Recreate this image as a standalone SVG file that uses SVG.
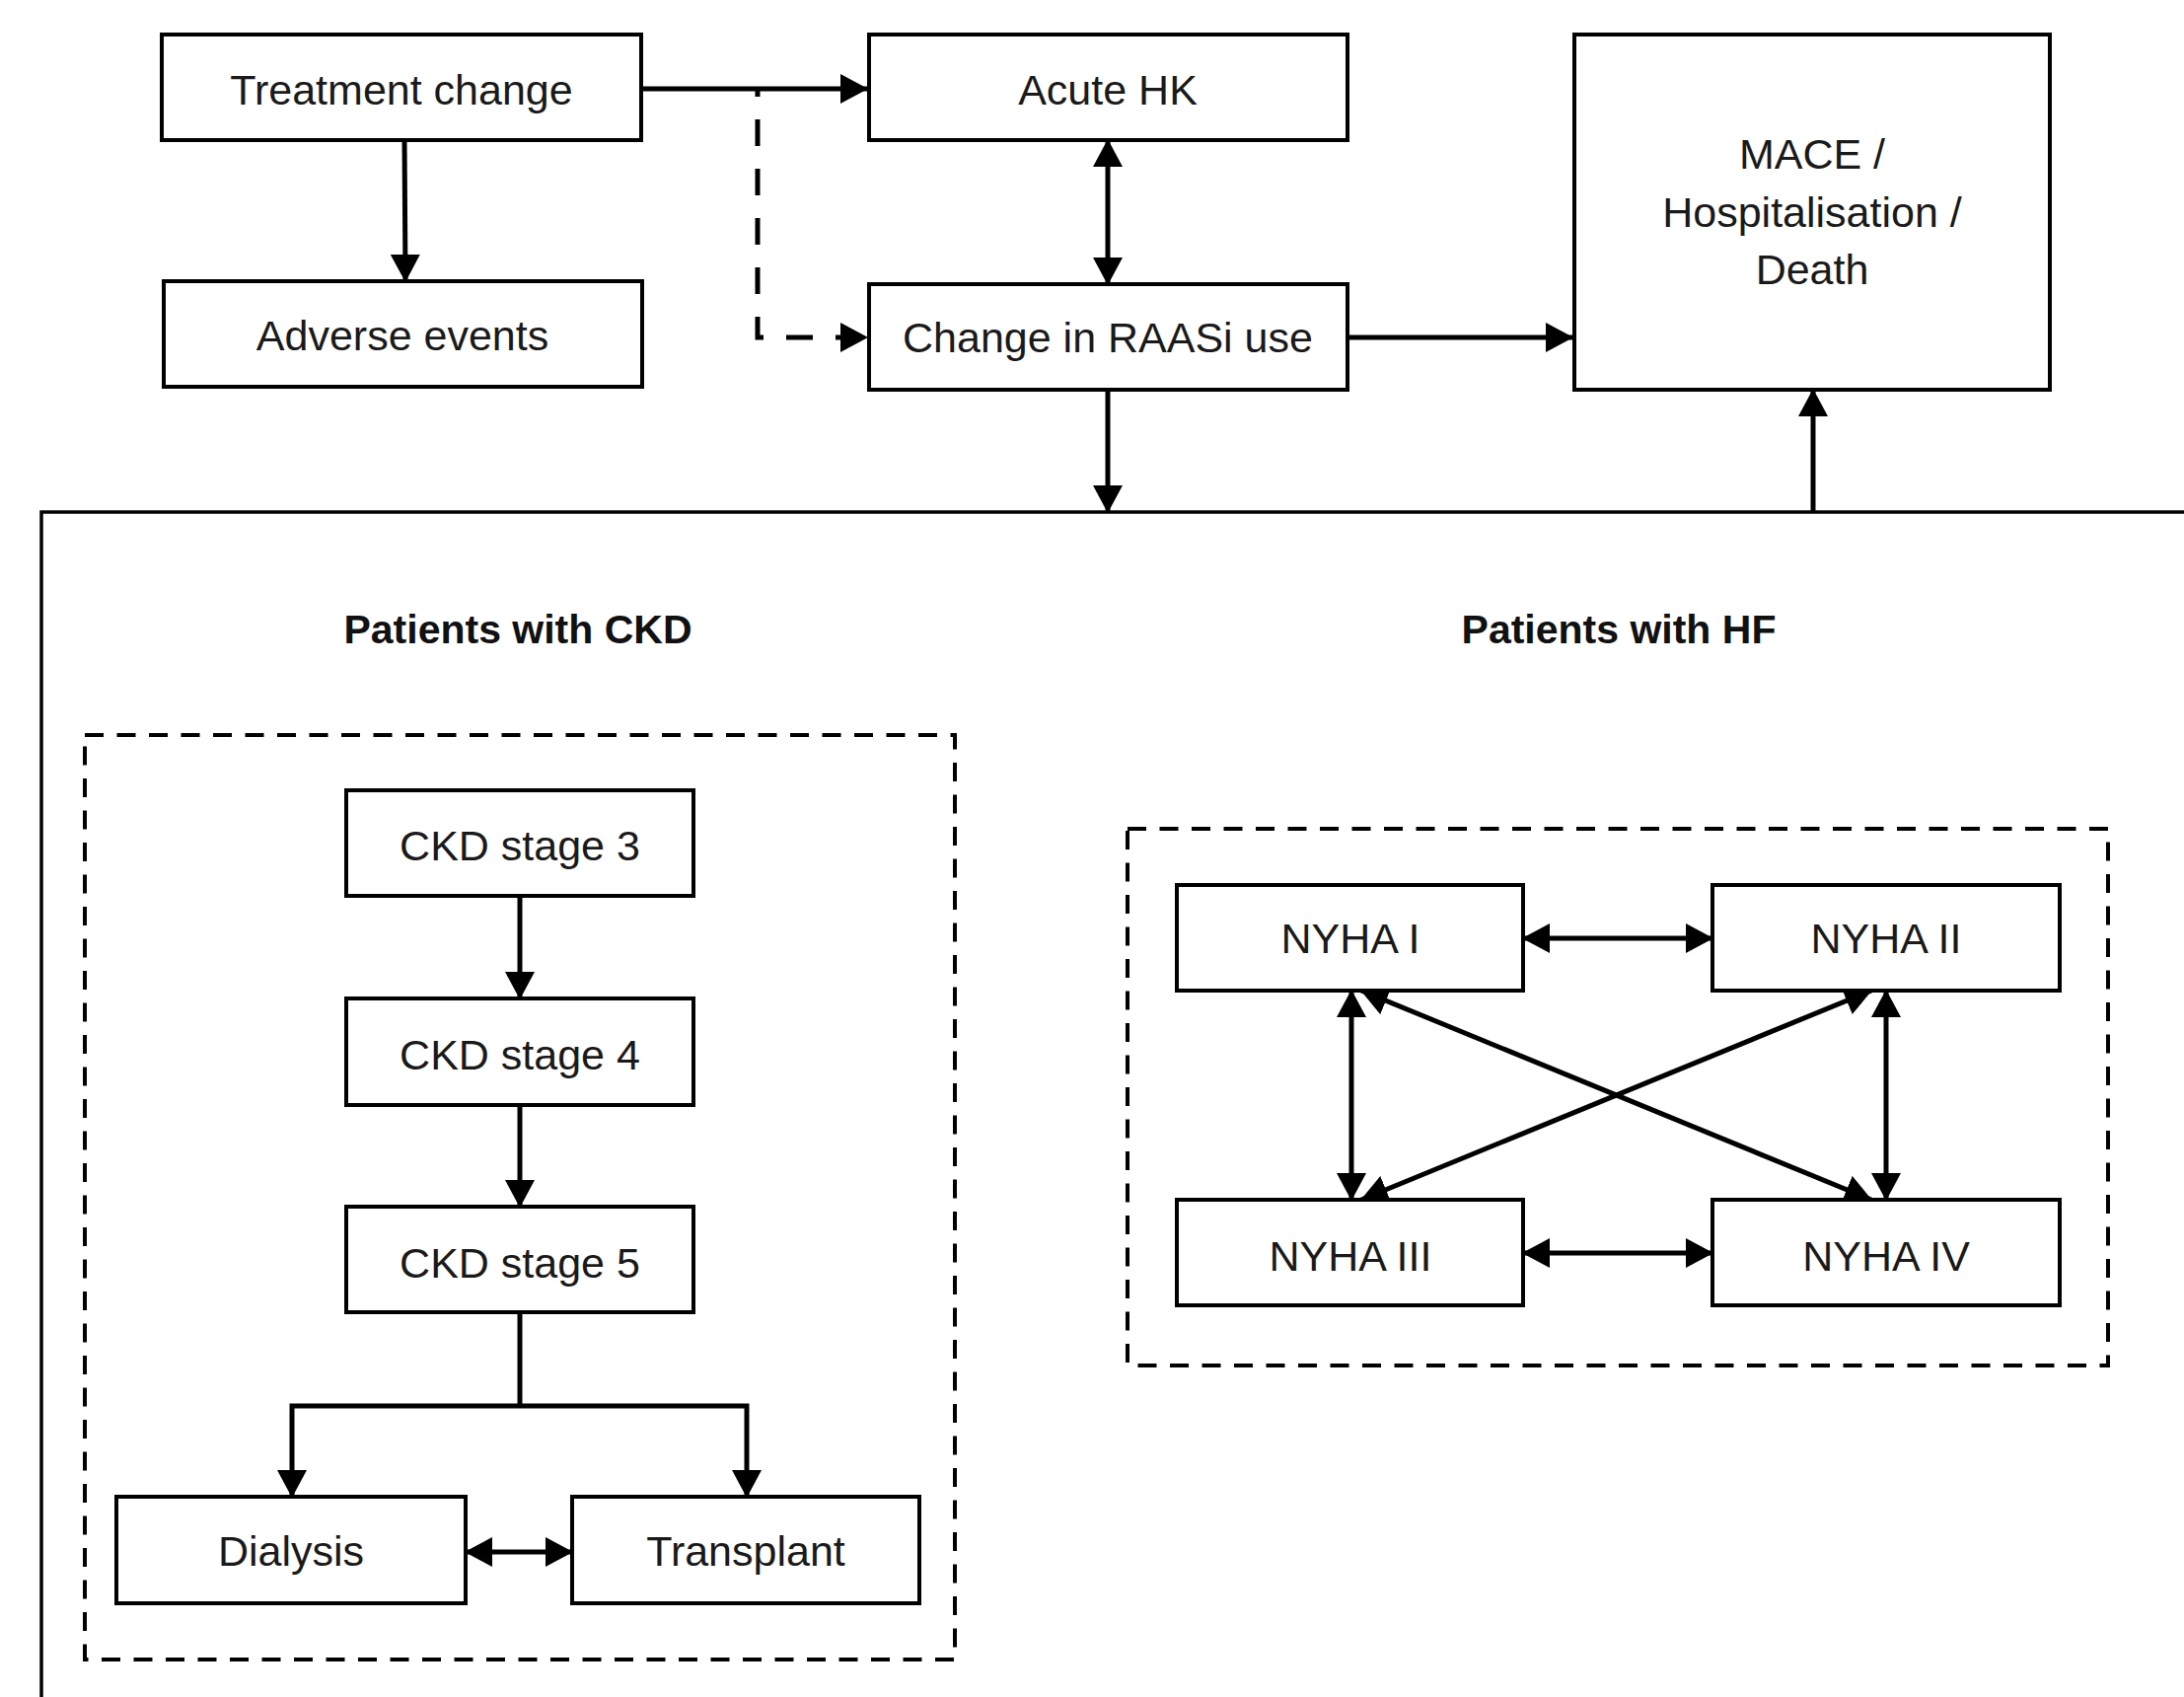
<svg xmlns="http://www.w3.org/2000/svg" width="2214" height="1720" viewBox="0 0 2214 1720">
<style>
.box{fill:#fff;stroke:#000;stroke-width:4}
.dbox{fill:none;stroke:#000;stroke-width:4;stroke-dasharray:19 13.5}
.frame{fill:none;stroke:#000;stroke-width:3.5}
.t{font-family:"Liberation Sans",Arial,sans-serif;font-size:43px;fill:#1a1a1a;text-anchor:middle}
.h{font-family:"Liberation Sans",Arial,sans-serif;font-size:41px;font-weight:bold;fill:#111;text-anchor:middle}
.c{fill:none;stroke:#000;stroke-width:5}
.a{marker-end:url(#ah)}
.b{marker-start:url(#ah);marker-end:url(#ah)}
.dash{stroke-dasharray:27 23;stroke-dashoffset:19}
</style>
<defs>
<marker id="ah" markerUnits="userSpaceOnUse" markerWidth="29" markerHeight="31" refX="27" refY="15" orient="auto-start-reverse" viewBox="0 0 29 31">
<path d="M0,0 L28,15 L0,30 Z" fill="#000"/>
</marker>
</defs>
<rect width="2214" height="1720" fill="#fff"/>
<g id="container">
<path class="frame" d="M42,1720 V519 H2214"/>
<text class="h" x="525" y="652">Patients with CKD</text>
<text class="h" x="1641" y="652">Patients with HF</text>
</g>
<g id="ckd-group"><rect class="dbox" x="86" y="745" width="882" height="937"/></g>
<g id="hf-group"><rect class="dbox" x="1143" y="840" width="994" height="544"/></g>
<g id="connectors">
<path class="c a" d="M650,90 H879"/>
<path class="c a" d="M410,142 L411,285"/>
<path class="c a dash" d="M768,90 V342 H879"/>
<path class="c b" d="M1123,142 V288"/>
<path class="c a" d="M1366,342 H1594"/>
<path class="c a" d="M1123,395 V519"/>
<path class="c a" d="M1838,519 V395"/>
<path class="c a" d="M527,908 V1012"/>
<path class="c a" d="M527,1120 V1223"/>
<path class="c" d="M527,1330 V1425"/>
<path class="c a" d="M527,1425 H296 V1517"/>
<path class="c a" d="M527,1425 H757 V1517"/>
<path class="c b" d="M472,1573 H580"/>
<path class="c b" d="M1544,951 H1736"/>
<path class="c b" d="M1544,1270 H1736"/>
<path class="c b" d="M1370,1004 V1216"/>
<path class="c b" d="M1912,1004 V1216"/>
<path class="c b" d="M1380,1004 L1897,1216"/>
<path class="c b" d="M1897,1004 L1380,1216"/>
</g>
<g id="treatment-change"><rect class="box" x="164" y="35" width="486" height="107"/><text class="t" x="407" y="106">Treatment change</text></g>
<g id="adverse-events"><rect class="box" x="166" y="285" width="485" height="107"/><text class="t" x="408" y="355">Adverse events</text></g>
<g id="acute-hk"><rect class="box" x="881" y="35" width="485" height="107"/><text class="t" x="1123" y="106">Acute HK</text></g>
<g id="raasi"><rect class="box" x="881" y="288" width="485" height="107"/><text class="t" x="1123" y="357">Change in RAASi use</text></g>
<g id="mace"><rect class="box" x="1596" y="35" width="482" height="360"/>
<text class="t" x="1837" y="171">MACE /</text>
<text class="t" x="1837" y="230">Hospitalisation /</text>
<text class="t" x="1837" y="288">Death</text></g>
<g id="ckd3"><rect class="box" x="351" y="801" width="352" height="107"/><text class="t" x="527" y="872">CKD stage 3</text></g>
<g id="ckd4"><rect class="box" x="351" y="1012" width="352" height="108"/><text class="t" x="527" y="1084">CKD stage 4</text></g>
<g id="ckd5"><rect class="box" x="351" y="1223" width="352" height="107"/><text class="t" x="527" y="1295">CKD stage 5</text></g>
<g id="dialysis"><rect class="box" x="118" y="1517" width="354" height="108"/><text class="t" x="295" y="1587">Dialysis</text></g>
<g id="transplant"><rect class="box" x="580" y="1517" width="352" height="108"/><text class="t" x="756" y="1587">Transplant</text></g>
<g id="nyha1"><rect class="box" x="1193" y="897" width="351" height="107"/><text class="t" x="1369" y="966">NYHA I</text></g>
<g id="nyha2"><rect class="box" x="1736" y="897" width="352" height="107"/><text class="t" x="1912" y="966">NYHA II</text></g>
<g id="nyha3"><rect class="box" x="1193" y="1216" width="351" height="107"/><text class="t" x="1369" y="1288">NYHA III</text></g>
<g id="nyha4"><rect class="box" x="1736" y="1216" width="352" height="107"/><text class="t" x="1912" y="1288">NYHA IV</text></g>
</svg>
